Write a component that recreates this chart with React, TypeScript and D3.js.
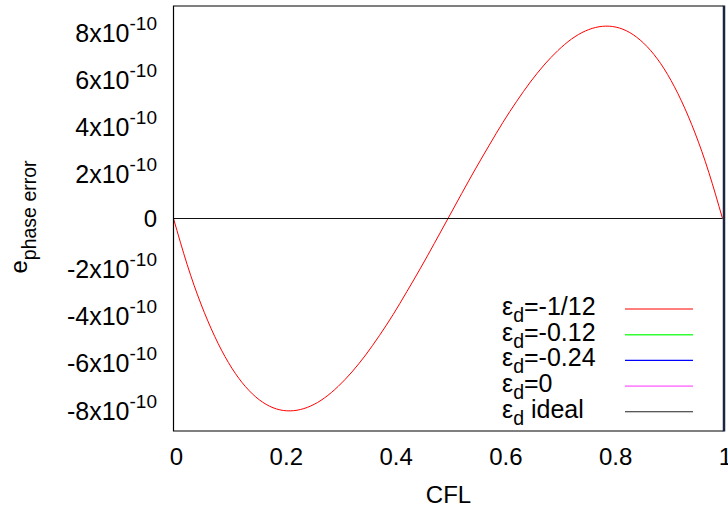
import React from "react";
import * as d3 from "d3";

// CFL sample positions
const cfl = [
  0, 0.025, 0.05, 0.075, 0.1, 0.125, 0.15, 0.175, 0.2, 0.225, 0.25, 0.275, 0.3, 0.325, 0.35,
  0.375, 0.4, 0.425, 0.45, 0.475, 0.5, 0.525, 0.55, 0.575, 0.6, 0.625, 0.65, 0.675, 0.7,
  0.725, 0.75, 0.775, 0.8, 0.825, 0.85, 0.875, 0.9, 0.925, 0.95, 0.975, 1,
];
// phase error in units of 1e-10, eps_d = -1/12
const errMinus1over12 = [
  0, -1.96, -3.62, -4.99, -6.1, -6.95, -7.56, -7.95, -8.13, -8.12, -7.94, -7.6, -7.11, -6.5,
  -5.78, -4.96, -4.07, -3.1, -2.1, -1.06, 0, 1.06, 2.1, 3.1, 4.07, 4.96, 5.78, 6.5, 7.11,
  7.6, 7.94, 8.12, 8.13, 7.95, 7.56, 6.95, 6.1, 4.99, 3.62, 1.96, 0,
];
// ideal: zero everywhere
const idealCfl = [0, 1];
const idealValues = [0, 0];

const xTicks = [0, 0.2, 0.4, 0.6, 0.8, 1];
const xTickLabels = ["0", "0.2", "0.4", "0.6", "0.8", "1"];
const yTicks = [-8, -6, -4, -2, 0, 2, 4, 6, 8];
const yExponent = "-10";

const legendLabels = ["=-1/12", "=-0.12", "=-0.24", "=0", " ideal"];
const legendColors = ["#ff0000", "#33ff33", "#0000ff", "#ff88ff", "#222222"];

const FONT = "'Liberation Sans', Arial, Helvetica, sans-serif";

export default function App() {
  const left = 173.5;
  const right = 722.5;
  const top = 6;
  const bottom = 431;
  const x = d3.scaleLinear().domain([0, 1]).range([left, right]);
  const y = d3.scaleLinear().domain([-9, 9]).range([bottom, top]);

  const line = d3
    .line<number>()
    .x((_, i) => x(cfl[i]))
    .y((d) => y(d))
    .curve(d3.curveNatural);
  const idealLine = d3
    .line<number>()
    .x((_, i) => x(idealCfl[i]))
    .y((d) => y(d));

  const legendTextX = 502;
  const legendBase = 315;
  const legendStep = 25.7;

  return (
    <svg
      width={728}
      height={510}
      style={{ position: "absolute", left: 0, top: 0, background: "#fff" }}
      fontFamily={FONT}
    >
      <rect x={0} y={0} width={728} height={510} fill="#fff" />
      {/* data */}
      <path d={line(errMinus1over12) || ""} fill="none" stroke="#ff0000" strokeWidth={1} />
      <path d={idealLine(idealValues) || ""} fill="none" stroke="#111" strokeWidth={1.1} />

      {/* frame */}
      <path
        d={`M${right + 1},${top} H${left} V${bottom} H${right + 1}`}
        fill="none"
        stroke="#000"
        strokeWidth={1.2}
      />
      <line x1={right + 1.5} x2={right + 1.5} y1={top - 0.5} y2={bottom + 0.5} stroke="#1c2640" strokeWidth={2.5} />

      {/* y ticks labels */}
      {yTicks.map((v) => (
        <text
          key={v}
          x={157}
          y={y(v) + (v === 0 ? 8.6 : 12.2)}
          textAnchor="end"
          fontSize={v === 0 ? 24 : 25}
          fill="#000"
        >
          {v === 0 ? (
            "0"
          ) : (
            <>
              <tspan>{`${v}x10`}</tspan>
              <tspan dy={-12} fontSize={19}>
                {yExponent}
              </tspan>
            </>
          )}
        </text>
      ))}

      {/* x tick labels */}
      {xTicks.map((v, i) => (
        <text key={v} x={x(v) + 3} y={465} textAnchor="middle" fontSize={24} fill="#000">
          {xTickLabels[i]}
        </text>
      ))}

      {/* axis titles */}
      <text x={448.5} y={503} textAnchor="middle" fontSize={24} fill="#000">
        CFL
      </text>
      <text transform="translate(27,217) rotate(-90)" textAnchor="middle" fontSize={24} fill="#000">
        <tspan>e</tspan>
        <tspan dy={9} fontSize={19.5}>
          phase error
        </tspan>
      </text>

      {/* legend */}
      {legendLabels.map((lab, i) => {
        const by = legendBase + i * legendStep;
        return (
          <g key={lab}>
            <text x={legendTextX} y={by} textAnchor="start" fontSize={25} fill="#000">
              <tspan>ε</tspan>
              <tspan dy={7} fontSize={19.5}>
                d
              </tspan>
              <tspan dy={-7}>{lab}</tspan>
            </text>
            <line
              x1={625}
              x2={693}
              y1={by - 6}
              y2={by - 6}
              stroke={legendColors[i]}
              strokeWidth={i === 1 || i === 3 ? 1.6 : 1.1}
            />
          </g>
        );
      })}
    </svg>
  );
}
